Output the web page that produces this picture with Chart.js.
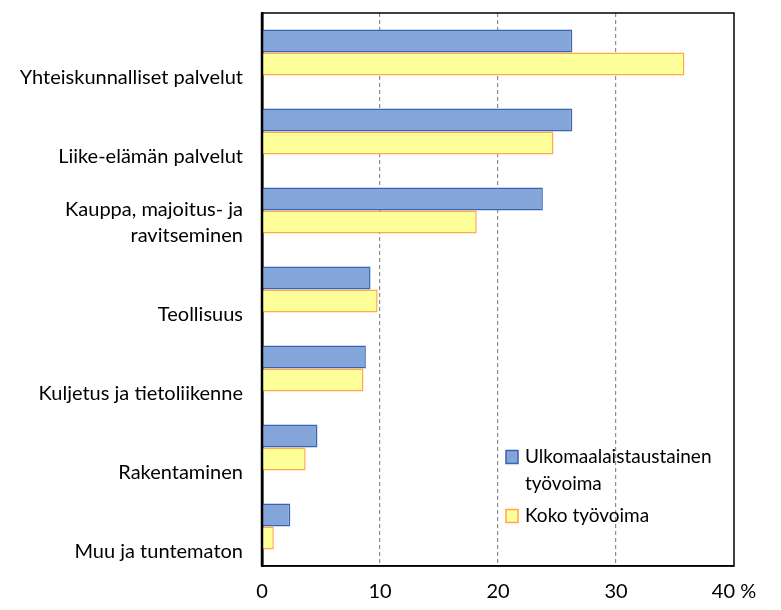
<!DOCTYPE html>
<html>
<head>
<meta charset="utf-8">
<script src="https://cdn.jsdelivr.net/npm/chart.js@4/dist/chart.umd.min.js"></script>
<style>
  html, body { margin: 0; padding: 0; background: #fff; }
  #wrap { width: 781px; height: 610px; }
</style>
</head>
<body>
<div id="wrap"><canvas id="chart" width="781" height="610"></canvas></div>
<script>
// ── data ─────────────────────────────────────
const categories = [
  'Yhteiskunnalliset palvelut',
  'Liike-elämän palvelut',
  ['Kauppa, majoitus- ja', 'ravitseminen', ''],
  'Teollisuus',
  'Kuljetus ja tietoliikenne',
  'Rakentaminen',
  'Muu ja tuntematon',
];
const foreignWorkforce = [26.3, 26.3, 23.8, 9.2, 8.8, 4.7, 2.4];
const totalWorkforce   = [35.8, 24.7, 18.2, 9.8, 8.6, 3.7, 1.0];
const seriesNames = [['Ulkomaalaistaustainen', 'työvoima'], ['Koko työvoima']];
const xTicks = [0, 10, 20, 30, 40];

// ── style ────────────────────────────────────
const FONT = { family: 'Lato', size: 20, lineHeight: 1.3 };
const BLUE_FILL = '#84a5d9', BLUE_LINE = '#3a62b5';
const YEL_FILL  = '#ffff99', YEL_LINE  = '#ffaa44';

// black frame round the plot area
const framePlugin = {
  id: 'frame',
  afterDraw(chart) {
    const { ctx, chartArea: a } = chart;
    ctx.save();
    ctx.strokeStyle = '#000';
    ctx.lineWidth = 1.5;
    ctx.strokeRect(a.left, a.top, a.right - a.left, a.bottom - a.top);
    ctx.lineWidth = 2.5;
    ctx.beginPath();
    ctx.moveTo(a.left, a.top);
    ctx.lineTo(a.left, a.bottom);
    ctx.stroke();
    ctx.restore();
  },
};

// legend drawn inside the plot, lower right
const innerLegend = {
  id: 'innerLegend',
  afterDraw(chart) {
    const { ctx } = chart;
    const x = 506, boxW = 12, boxH = 13;
    const rows = [
      { y: 457, lines: seriesNames[0], ds: chart.data.datasets[0] },
      { y: 516, lines: seriesNames[1], ds: chart.data.datasets[1] },
    ];
    ctx.save();
    ctx.font = `19px ${FONT.family}`;
    ctx.textBaseline = 'middle';
    ctx.textAlign = 'left';
    rows.forEach(r => {
      ctx.fillStyle = r.ds.backgroundColor;
      ctx.strokeStyle = r.ds.borderColor;
      ctx.lineWidth = 1.5;
      ctx.fillRect(x, r.y - boxH / 2, boxW, boxH);
      ctx.strokeRect(x, r.y - boxH / 2, boxW, boxH);
      ctx.fillStyle = '#000';
      r.lines.forEach((t, i) => ctx.fillText(t, x + 19, r.y + i * 27));
    });
    ctx.restore();
  },
};

new Chart(document.getElementById('chart'), {
  type: 'bar',
  data: {
    labels: categories,
    datasets: [
      {
        label: seriesNames[0].join(' '),
        data: foreignWorkforce,
        backgroundColor: BLUE_FILL,
        borderColor: BLUE_LINE,
        borderWidth: 1.5,
      },
      {
        label: seriesNames[1].join(' '),
        data: totalWorkforce,
        backgroundColor: YEL_FILL,
        borderColor: YEL_LINE,
        borderWidth: 1.5,
      },
    ],
  },
  options: {
    indexAxis: 'y',
    responsive: false,
    animation: false,
    datasets: { bar: { categoryPercentage: 0.58, barPercentage: 1.0 } },
    layout: { padding: { top: 13, right: 47, bottom: 0, left: 0 } },
    plugins: { legend: { display: false }, tooltip: { enabled: false } },
    scales: {
      x: {
        min: 0,
        max: 40,
        afterBuildTicks: s => { s.ticks = xTicks.map(v => ({ value: v })); },
        afterFit: s => { s.height = 44; s.paddingLeft = 0; s.paddingRight = 0; },
        grid: {
          drawTicks: false,
          color: c => (c.tick && c.tick.value > 0 && c.tick.value < 40) ? '#8c8c8c' : 'rgba(0,0,0,0)',
          lineWidth: 1.2,
        },
        border: { color: '#000', width: 1.5, dash: [4, 3] },
        ticks: {
          color: '#000',
          font: FONT,
          padding: 13,
          maxRotation: 0,
          autoSkip: false,
          callback: v => v === 40 ? '40 %' : String(v),
        },
      },
      y: {
        afterFit: s => { s.width = 262; s.paddingTop = 0; s.paddingBottom = 0; },
        grid: { display: false, drawTicks: false },
        border: { color: '#000', width: 2.5 },
        ticks: {
          color: '#000',
          font: FONT,
          padding: 19,
          labelOffset: 25,
          autoSkip: false,
        },
      },
    },
  },
  plugins: [framePlugin, innerLegend],
});
</script>
</body>
</html>
